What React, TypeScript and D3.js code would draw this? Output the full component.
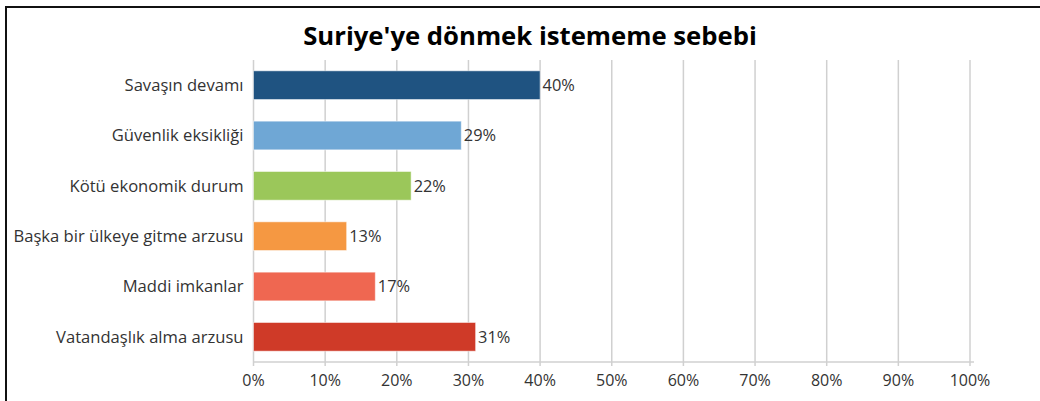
import React, { useEffect, useRef } from 'react';
import * as d3 from 'd3';

const categories = [
  'Savaşın devamı',
  'Güvenlik eksikliği',
  'Kötü ekonomik durum',
  'Başka bir ülkeye gitme arzusu',
  'Maddi imkanlar',
  'Vatandaşlık alma arzusu',
];
const values = [40, 29, 22, 13, 17, 31];
const colors = ['#1f5381', '#6fa7d5', '#9bc75a', '#f59842', '#ef6751', '#cf3a28'];
const xTicks = [0, 10, 20, 30, 40, 50, 60, 70, 80, 90, 100];
const title = "Suriye'ye dönmek istememe sebebi";

const App = () => {
  const svgRef = useRef<SVGSVGElement>(null);

  useEffect(() => {
    const svg = d3.select(svgRef.current);
    svg.selectAll('*').remove();
    const width = 1040;
    const height = 401;
    const margin = { top: 60, right: 70, bottom: 39, left: 253.5 };
    const font = "'Open Sans', sans-serif";

    svg.attr('width', width).attr('height', height);

    // frame
    svg
      .append('path')
      .attr('d', `M6,${height} V7 H${width}`)
      .attr('fill', 'none')
      .attr('stroke', '#111')
      .attr('stroke-width', 2);

    svg
      .append('text')
      .attr('x', 530)
      .attr('y', 45)
      .attr('text-anchor', 'middle')
      .style('font-family', font)
      .style('font-weight', 'bold')
      .style('font-size', '25.7px')
      .style('fill', '#000')
      .text(title);

    const x = d3
      .scaleLinear()
      .domain([0, 100])
      .range([margin.left, width - margin.right]);

    const y = d3
      .scaleBand()
      .domain(categories)
      .range([margin.top, height - margin.bottom])
      .paddingInner(0.43)
      .paddingOuter(0.215);

    // gridlines
    svg
      .append('g')
      .selectAll('line')
      .data(xTicks)
      .enter()
      .append('line')
      .attr('x1', (d) => x(d))
      .attr('x2', (d) => x(d))
      .attr('y1', margin.top)
      .attr('y2', height - margin.bottom + 4)
      .attr('stroke', '#d0d0d0')
      .attr('stroke-width', 1.5);

    // x axis line
    svg
      .append('line')
      .attr('x1', x(0))
      .attr('x2', x(100) + 4)
      .attr('y1', height - margin.bottom)
      .attr('y2', height - margin.bottom)
      .attr('stroke', '#d0d0d0')
      .attr('stroke-width', 1.5);

    // tick labels
    svg
      .append('g')
      .selectAll('text')
      .data(xTicks)
      .enter()
      .append('text')
      .attr('x', (d) => x(d))
      .attr('y', height - margin.bottom + 24)
      .attr('text-anchor', 'middle')
      .style('font-family', font)
      .style('font-size', '16px')
      .style('fill', '#333')
      .text((d) => `${d}%`);

    // category labels
    svg
      .append('g')
      .selectAll('text')
      .data(categories)
      .enter()
      .append('text')
      .attr('x', margin.left - 10)
      .attr('y', (d) => (y(d) as number) + y.bandwidth() / 2)
      .attr('dy', '0.35em')
      .attr('text-anchor', 'end')
      .style('font-family', font)
      .style('font-size', '16.6px')
      .style('fill', '#333')
      .text((d) => d);

    // bars
    svg
      .append('g')
      .selectAll('rect')
      .data(values)
      .enter()
      .append('rect')
      .attr('x', x(0))
      .attr('y', (_, i) => y(categories[i]) as number)
      .attr('width', (d) => x(d) - x(0))
      .attr('height', y.bandwidth())
      .attr('fill', (_, i) => colors[i])
      .attr('stroke', '#ffffff')
      .attr('stroke-opacity', 0.5)
      .attr('stroke-width', 1);

    // value labels
    svg
      .append('g')
      .selectAll('text')
      .data(values)
      .enter()
      .append('text')
      .attr('x', (d) => x(d) + 2.5)
      .attr('y', (_, i) => (y(categories[i]) as number) + y.bandwidth() / 2)
      .attr('dy', '0.35em')
      .style('font-family', font)
      .style('font-size', '16.4px')
      .style('fill', '#333')
      .text((d) => `${d}%`);
  }, []);

  return <svg ref={svgRef} style={{ position: 'absolute', left: 0, top: 0 }}></svg>;
};

export default App;
